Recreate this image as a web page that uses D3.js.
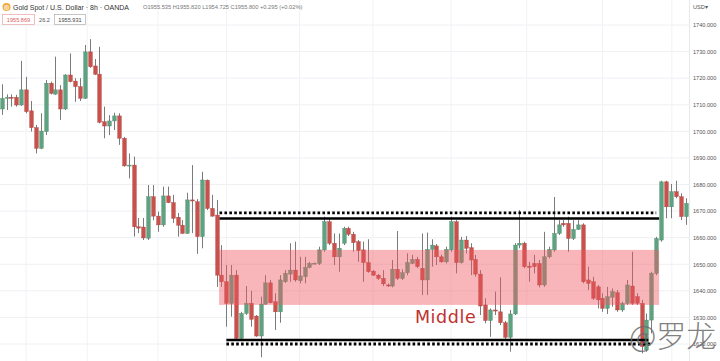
<!DOCTYPE html>
<html><head><meta charset="utf-8">
<script src="https://cdn.jsdelivr.net/npm/d3@7"></script>
<style>body{margin:0;background:#fff;overflow:hidden}svg{display:block}</style>
</head><body>
<svg id="c" width="720" height="361"></svg>
<script>
// ---- data ----
const categories = d3.range(1, 142).map(d => "Bar " + d);
const opens = [
1708.4,1712.4,1712.8,1712.8,1709.9,1715.6,1707.7,1701.4,1693.6,1699.9,
1718.1,1714.0,1715.6,1708.4,1721.2,1718.9,1716.8,1712.4,1729.9,1724.6,
1721.5,1703.6,1702.0,1703.9,1705.8,1697.4,1687.1,1687.3,1664.1,1664.0,
1659.8,1675.4,1668.1,1664.8,1675.7,1673.2,1667.7,1664.7,1661.6,1674.2,
1673.5,1660.4,1681.6,1671.0,1668.5,1645.9,1643.4,1635.3,1645.9,1622.1,
1631.5,1635.3,1630.5,1623.0,1635.0,1643.0,1635.9,1632.1,1643.4,1646.3,
1647.8,1643.8,1645.3,1648.8,1650.3,1650.3,1655.4,1666.0,1657.9,1652.8,
1657.9,1663.5,1661.3,1658.5,1655.4,1650.6,1647.4,1645.9,1644.7,1642.2,
1641.8,1648.1,1644.7,1646.8,1650.3,1651.8,1648.5,1644.1,1655.6,1656.9,
1652.8,1650.9,1655.4,1666.0,1650.6,1659.1,1656.2,1651.8,1646.3,1634.7,
1628.8,1632.8,1632.1,1628.0,1622.5,1631.3,1657.2,1657.9,1649.3,1650.3,
1650.3,1642.2,1652.8,1655.4,1661.6,1665.4,1665.4,1659.7,1663.1,1664.8,
1644.1,1643.4,1641.5,1637.2,1633.4,1637.6,1639.3,1632.8,1635.3,1641.8,
1637.8,1635.3,1617.8,1629.0,1646.6,1659.1,1681.0,1671.6,1677.3,1675.4,
1667.9];
const highs = [
1717.7,1713.9,1713.9,1713.7,1726.5,1720.5,1711.4,1702.4,1706.8,1719.3,
1718.7,1728.1,1717.4,1721.5,1729.3,1720.0,1720.0,1732.5,1734.7,1727.2,
1731.8,1709.3,1706.1,1707.0,1706.8,1697.9,1691.7,1690.5,1667.4,1667.4,
1679.8,1679.8,1669.8,1679.2,1679.2,1676.1,1669.3,1666.6,1676.9,1687.3,
1674.5,1684.8,1681.9,1676.1,1674.2,1657.2,1649.7,1649.7,1647.8,1632.1,
1641.8,1640.0,1630.9,1637.8,1645.9,1644.1,1639.1,1645.9,1647.8,1657.9,
1658.5,1652.8,1652.8,1650.9,1650.6,1656.6,1667.9,1667.3,1661.6,1661.6,
1664.1,1664.1,1662.2,1659.1,1658.5,1659.4,1647.8,1646.3,1647.8,1642.8,
1651.6,1662.5,1648.1,1654.1,1653.5,1652.8,1661.6,1661.9,1659.4,1657.6,
1653.6,1656.6,1667.9,1666.6,1660.3,1660.6,1657.9,1653.5,1647.8,1637.2,
1633.4,1639.7,1645.1,1628.7,1632.8,1657.9,1670.4,1658.5,1650.9,1653.5,
1651.6,1662.2,1656.6,1675.3,1666.6,1666.6,1667.9,1666.6,1666.6,1665.4,
1649.1,1645.3,1642.2,1639.1,1641.5,1640.9,1640.3,1635.9,1644.1,1654.7,
1639.1,1636.6,1631.5,1647.2,1660.3,1681.4,1681.4,1680.2,1681.4,1676.7,
1674.8];
const lows = [
1706.2,1708.0,1709.3,1709.3,1709.6,1706.8,1699.9,1691.7,1693.3,1698.6,
1713.9,1713.7,1704.3,1708.0,1718.4,1711.1,1711.4,1712.2,1723.9,1721.2,
1703.0,1697.4,1698.6,1700.5,1694.9,1686.7,1682.3,1660.4,1661.7,1659.1,
1659.1,1666.6,1662.2,1664.1,1673.0,1665.5,1660.4,1661.4,1661.4,1661.7,
1653.9,1656.0,1670.4,1667.9,1641.5,1641.5,1626.5,1630.3,1621.5,1621.8,
1630.9,1626.5,1622.7,1615.0,1634.7,1635.3,1625.3,1628.0,1643.0,1643.4,
1643.4,1642.8,1642.8,1648.5,1650.1,1649.7,1654.7,1657.2,1649.7,1647.2,
1657.2,1660.6,1654.7,1650.9,1643.4,1646.8,1645.6,1644.1,1641.8,1641.5,
1641.3,1644.1,1644.1,1645.9,1650.1,1648.5,1638.4,1638.4,1649.1,1649.7,
1650.6,1650.3,1654.7,1646.6,1650.3,1654.1,1645.9,1645.3,1630.9,1627.8,
1622.7,1630.9,1627.1,1621.8,1617.1,1630.9,1656.0,1648.5,1643.4,1646.6,
1641.3,1641.5,1652.2,1654.7,1661.0,1664.1,1654.7,1659.1,1662.9,1642.8,
1640.3,1636.6,1633.4,1632.1,1631.3,1634.0,1632.1,1632.1,1634.7,1634.7,
1634.7,1616.5,1617.1,1624.0,1645.9,1658.5,1667.3,1667.3,1674.8,1666.6,
1664.8];
const closes = [
1712.4,1712.8,1712.4,1709.9,1715.6,1707.4,1701.4,1693.6,1700.1,1718.1,
1714.3,1715.6,1708.4,1721.2,1718.7,1716.8,1712.4,1729.9,1724.3,1721.5,
1703.4,1702.0,1703.9,1705.8,1697.4,1687.0,1687.3,1664.1,1663.6,1659.9,
1675.4,1668.1,1664.8,1675.7,1673.2,1667.3,1664.7,1661.6,1674.2,1673.8,
1660.4,1681.7,1671.0,1668.1,1645.9,1643.4,1635.3,1645.9,1622.1,1631.5,
1635.3,1629.3,1623.0,1635.0,1643.0,1635.5,1632.1,1644.1,1646.6,1647.8,
1644.1,1645.6,1648.8,1650.3,1650.4,1655.4,1666.0,1657.9,1652.8,1656.0,
1663.5,1661.3,1658.1,1655.1,1650.6,1647.2,1645.9,1644.7,1642.6,1642.1,
1648.1,1644.7,1646.8,1650.6,1651.8,1649.1,1644.1,1655.6,1657.2,1652.8,
1650.9,1655.6,1666.0,1650.6,1659.1,1656.0,1651.6,1646.3,1634.3,1628.8,
1632.8,1632.4,1628.0,1622.5,1631.3,1657.2,1657.9,1649.1,1648.8,1649.1,
1642.2,1652.8,1655.6,1661.6,1664.8,1664.8,1659.7,1663.1,1664.8,1643.4,
1642.8,1637.2,1636.6,1633.4,1637.8,1639.7,1632.8,1635.3,1642.2,1635.3,
1635.3,1619.0,1629.0,1646.6,1659.7,1681.0,1671.6,1677.3,1675.4,1667.9,
1672.9];
const priceTicks = [1620,1630,1640,1650,1660,1670,1680,1690,1700,1710,1720,1730,1740];
const gridBars = [5, 17.5, 32, 46, 61, 76, 92, 107.5, 123, 137.2];
const upperLevels = [1669.3, 1667.2];   // dotted, solid
const upperSpan = [44.6, 134.6];
const lowerLevels = [1621.5, 1620.0];   // solid, dotted
const lowerSpan = [46.0, 133.0];
const middleZone = [1655.4, 1634.7];
const middleSpan = [44.5, 134.6];
const middleLabel = {text: "Middle", bar: 84.6, price: 1627.9};
const titleText = "Gold Spot / U.S. Dollar · 8h · OANDA";
const ohlcText = "O1955.535 H1955.820 L1954.725 C1955.800 +0.295 (+0.02%)";
const bidText = "1955.869", spreadText = "26.2", askText = "1955.931";
const currencyText = "USD▾";
const watermarkText = "@罗龙";

// ---- scales ----
const W = 720, H = 361, plotRight = 689;
const x = d3.scaleLinear().domain([0, categories.length - 1]).range([1.7, 685.5]);
const y = d3.scaleLinear().domain([1620, 1740]).range([344, 25]);
const svg = d3.select("#c");
const font = "'Liberation Sans', Arial, sans-serif";

// grid
svg.append("g").selectAll("line").data(priceTicks).join("line")
  .attr("x1", 0).attr("x2", plotRight).attr("y1", d => y(d)).attr("y2", d => y(d))
  .attr("stroke", "#eef0f4").attr("stroke-width", 1);
svg.append("g").selectAll("line").data(gridBars).join("line")
  .attr("x1", d => x(d)).attr("x2", d => x(d)).attr("y1", 0).attr("y2", H)
  .attr("stroke", "#f0f2f5").attr("stroke-width", 1);
svg.append("line").attr("x1", plotRight + 0.5).attr("x2", plotRight + 0.5)
  .attr("y1", 0).attr("y2", H).attr("stroke", "#e6e8ec");

// candles
const bars = d3.range(categories.length).map(i => ({
  i, o: opens[i], h: highs[i], l: lows[i], c: closes[i], up: closes[i] >= opens[i]
}));
const bw = 3.7;
const cg = svg.append("g");
cg.selectAll("line").data(bars).join("line")
  .attr("x1", d => Math.round(x(d.i)) + 0.5).attr("x2", d => Math.round(x(d.i)) + 0.5)
  .attr("y1", d => y(d.h)).attr("y2", d => y(d.l))
  .attr("stroke", "#7b7b7b").attr("stroke-width", 1);
cg.selectAll("rect").data(bars).join("rect")
  .attr("x", d => Math.round(x(d.i)) + 0.5 - bw / 2)
  .attr("width", bw)
  .attr("y", d => y(Math.max(d.o, d.c)))
  .attr("height", d => Math.max(1, Math.abs(y(d.o) - y(d.c))))
  .attr("fill", d => d.up ? "#5fa281" : "#c9514c")
  .attr("stroke", d => d.up ? "#4f8e6e" : "#b04440").attr("stroke-width", 0.4);

// middle zone
svg.append("rect")
  .attr("x", x(middleSpan[0])).attr("width", x(middleSpan[1]) - x(middleSpan[0]))
  .attr("y", y(middleZone[0])).attr("height", y(middleZone[1]) - y(middleZone[0]))
  .attr("fill", "rgb(238,85,95)").attr("fill-opacity", 0.43);

// support / resistance lines
function hline(price, span, dotted) {
  svg.append("line")
    .attr("x1", x(span[0])).attr("x2", x(span[1]))
    .attr("y1", y(price)).attr("y2", y(price))
    .attr("stroke", "#000").attr("stroke-width", dotted ? 2.8 : 2.6)
    .attr("stroke-dasharray", dotted ? "2.6,2.3" : null);
}
hline(upperLevels[0], [upperSpan[0], upperSpan[1] - 0.6], true);
hline(upperLevels[1], upperSpan, false);
hline(lowerLevels[0], [lowerSpan[0], lowerSpan[1] - 0.6], false);
hline(lowerLevels[1], lowerSpan, true);

// label
svg.append("text").attr("x", x(middleLabel.bar)).attr("y", y(middleLabel.price))
  .attr("font-family", "'DejaVu Sans', sans-serif").attr("font-size", 17.5)
  .attr("letter-spacing", 0.6)
  .attr("fill", "#c0302e").text(middleLabel.text);

// price axis
const axis = d3.axisRight(y).tickValues(priceTicks).tickFormat(d3.format(".3f"))
  .tickSize(0).tickPadding(3);
const ag = svg.append("g").attr("transform", `translate(${plotRight + 1},0)`).call(axis);
ag.select(".domain").remove();
ag.selectAll("text").attr("font-family", font).attr("font-size", 5.6).attr("fill", "#555");
svg.append("text").attr("x", 693).attr("y", 8.5).attr("font-family", font)
  .attr("font-size", 5.6).attr("fill", "#555").text(currencyText);

// header
svg.append("circle").attr("cx", 6.5).attr("cy", 7).attr("r", 4).attr("fill", "#f0a83a");
svg.append("text").attr("x", 6.5).attr("y", 9.2).attr("text-anchor", "middle")
  .attr("font-family", font).attr("font-size", 5.5).attr("font-weight", "bold")
  .attr("fill", "#fff").text("◎");
svg.append("text").attr("x", 13).attr("y", 9.6).attr("font-family", font)
  .attr("font-size", 7).attr("fill", "#333").text(titleText);
svg.append("text").attr("x", 143).attr("y", 9.4).attr("font-family", font)
  .attr("font-size", 5.7).attr("fill", "#777").text(ohlcText);
svg.append("rect").attr("x", 2.5).attr("y", 14.5).attr("width", 32).attr("height", 10)
  .attr("fill", "#fff").attr("stroke", "#eab0b0").attr("stroke-width", 0.8);
svg.append("text").attr("x", 18.5).attr("y", 21.5).attr("text-anchor", "middle")
  .attr("font-family", font).attr("font-size", 5.6).attr("fill", "#e06060").text(bidText);
svg.append("text").attr("x", 44.5).attr("y", 21.5).attr("text-anchor", "middle")
  .attr("font-family", font).attr("font-size", 5.6).attr("fill", "#555").text(spreadText);
svg.append("rect").attr("x", 54.5).attr("y", 14.5).attr("width", 31).attr("height", 10)
  .attr("fill", "#fff").attr("stroke", "#b8b8b8").attr("stroke-width", 0.8);
svg.append("text").attr("x", 70).attr("y", 21.5).attr("text-anchor", "middle")
  .attr("font-family", font).attr("font-size", 5.6).attr("fill", "#444").text(askText);

// watermark (overlays the lower price labels as in the reference)
svg.append("text").attr("x", 629).attr("y", 347)
  .attr("font-family", "'Noto Sans CJK SC', sans-serif").attr("font-size", 30)
  .attr("font-weight", 300).attr("fill", "#6a6a6a").attr("fill-opacity", 0.85)
  .text(watermarkText);
</script>
</body></html>
